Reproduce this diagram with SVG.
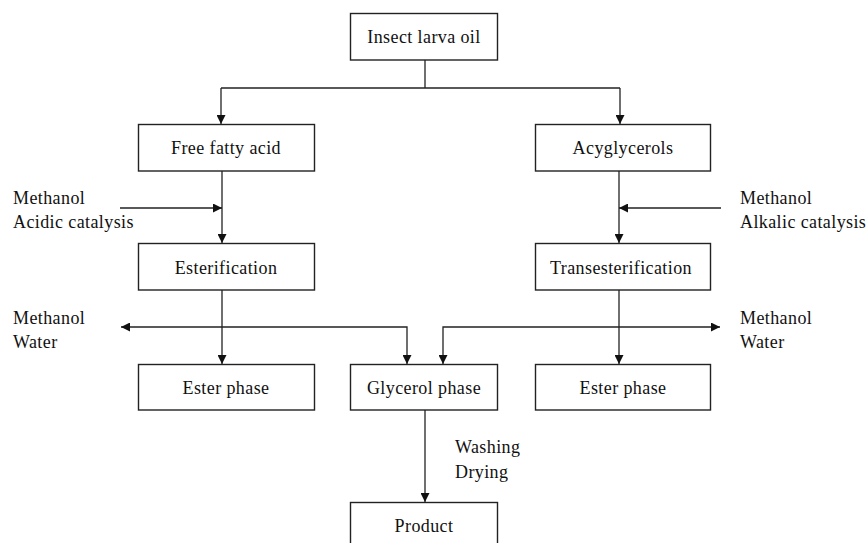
<svg xmlns="http://www.w3.org/2000/svg" width="867" height="543" viewBox="0 0 867 543">
<style>
.box{fill:#fff;stroke:#222;stroke-width:1.4}
.t{font-family:"Liberation Serif","Times New Roman",serif;font-size:18px;letter-spacing:0.4px;fill:#111}
.c{text-anchor:middle}
.ln{fill:none;stroke:#222;stroke-width:1.3}
</style>
<defs>
<marker id="ah" viewBox="0 0 10 10" refX="10" refY="5" markerWidth="9" markerHeight="9" markerUnits="userSpaceOnUse" orient="auto">
<path d="M0,0 L10,5 L0,10 Z" fill="#111"/>
</marker>
</defs>
<rect width="867" height="543" fill="#fff"/>
<g id="connectors">
<path class="ln" d="M425,60 V88"/>
<path class="ln" d="M221,88 H620"/>
<path class="ln" d="M221,88 V124" marker-end="url(#ah)"/>
<path class="ln" d="M620,88 V124" marker-end="url(#ah)"/>
<path class="ln" d="M222,171 V243" marker-end="url(#ah)"/>
<path class="ln" d="M120,208 H222" marker-end="url(#ah)"/>
<path class="ln" d="M619,171 V243" marker-end="url(#ah)"/>
<path class="ln" d="M721,208 H619" marker-end="url(#ah)"/>
<path class="ln" d="M222,290 V364" marker-end="url(#ah)"/>
<path class="ln" d="M222,327 H121" marker-end="url(#ah)"/>
<path class="ln" d="M222,327 H407 V364" marker-end="url(#ah)"/>
<path class="ln" d="M619,290 V364" marker-end="url(#ah)"/>
<path class="ln" d="M619,327 H443 V364" marker-end="url(#ah)"/>
<path class="ln" d="M619,327 H720" marker-end="url(#ah)"/>
<path class="ln" d="M425,410 V502" marker-end="url(#ah)"/>
</g>
<g id="insect-larva-oil"><rect class="box" x="350.5" y="13.5" width="147" height="46.5"/><text class="t c" x="424" y="43">Insect larva oil</text></g>
<g id="free-fatty-acid"><rect class="box" x="138.5" y="124.5" width="176" height="46.5"/><text class="t c" x="226" y="154">Free fatty acid</text></g>
<g id="acyglycerols"><rect class="box" x="535.5" y="124.5" width="175" height="46.5"/><text class="t c" x="623" y="154">Acyglycerols</text></g>
<g id="esterification"><rect class="box" x="138.5" y="243.5" width="176" height="46.5"/><text class="t c" x="226" y="274">Esterification</text></g>
<g id="transesterification"><rect class="box" x="535.5" y="243.5" width="175" height="46.5"/><text class="t c" x="621" y="274">Transesterification</text></g>
<g id="ester-phase-left"><rect class="box" x="138.5" y="364.5" width="176" height="45.5"/><text class="t c" x="226" y="394">Ester phase</text></g>
<g id="glycerol-phase"><rect class="box" x="350.5" y="364.5" width="147" height="45.5"/><text class="t c" x="424" y="394">Glycerol phase</text></g>
<g id="ester-phase-right"><rect class="box" x="535.5" y="364.5" width="175" height="45.5"/><text class="t c" x="623" y="394">Ester phase</text></g>
<g id="product"><rect class="box" x="350.5" y="502.5" width="147" height="50"/><text class="t c" x="424" y="532">Product</text></g>
<g id="labels">
<text class="t" x="13" y="204">Methanol</text>
<text class="t" x="13" y="228">Acidic catalysis</text>
<text class="t" x="740" y="204">Methanol</text>
<text class="t" x="740" y="228">Alkalic catalysis</text>
<text class="t" x="13" y="324">Methanol</text>
<text class="t" x="13" y="348">Water</text>
<text class="t" x="740" y="324">Methanol</text>
<text class="t" x="740" y="348">Water</text>
<text class="t" x="455" y="453">Washing</text>
<text class="t" x="455" y="478">Drying</text>
</g>
</svg>
